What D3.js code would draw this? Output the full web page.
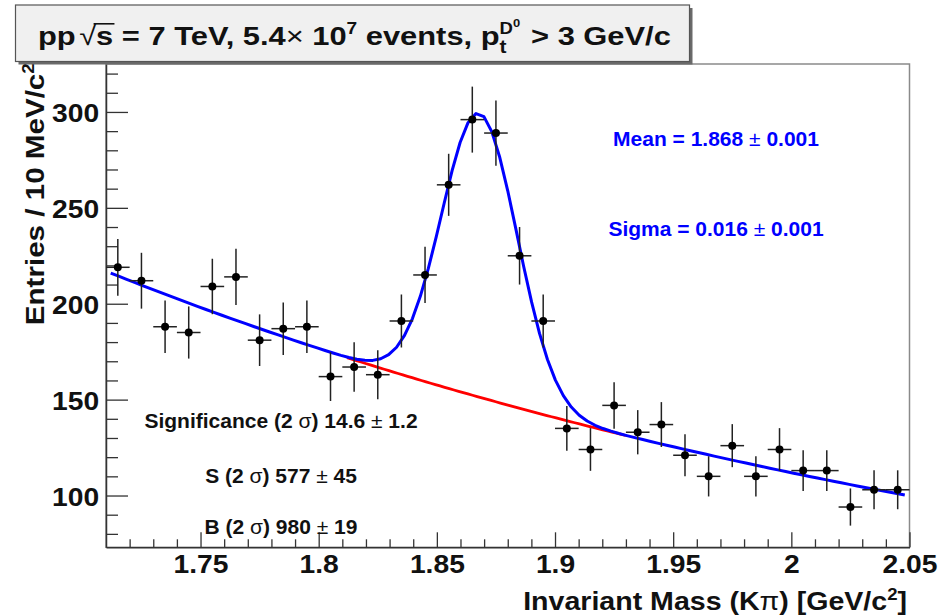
<!DOCTYPE html>
<html>
<head>
<meta charset="utf-8">
<script src="https://cdn.jsdelivr.net/npm/d3@7"></script>
<style>
  html, body { margin: 0; padding: 0; background: #fff; }
  svg { display: block; }
  text { font-family: "Liberation Sans", Arial, Helvetica, sans-serif; }
</style>
</head>
<body>
<svg id="chart" width="943" height="616"></svg>
<script>
// ---- data: D0 -> K pi invariant mass, 10 MeV/c^2 bins ----
const massBins = [1.715, 1.725, 1.735, 1.745, 1.755, 1.765, 1.775, 1.785, 1.795, 1.805,
                  1.815, 1.825, 1.835, 1.845, 1.855, 1.865, 1.875, 1.885, 1.895, 1.905,
                  1.915, 1.925, 1.935, 1.945, 1.955, 1.965, 1.975, 1.985, 1.995, 2.005,
                  2.015, 2.025, 2.035, 2.045];
const entries = [219, 212, 188, 185, 209, 214, 181, 187, 188, 162,
                 167, 163, 191, 215, 262, 296, 289, 225, 191, 135,
                 124, 147, 133, 137, 121, 110, 126, 110, 124, 113,
                 113, 94, 103, 103];
const binWidth = 0.01;

const xTickValues = [1.75, 1.8, 1.85, 1.9, 1.95, 2, 2.05];
const xTickLabels = ["1.75", "1.8", "1.85", "1.9", "1.95", "2", "2.05"];
const yTickValues = [100, 150, 200, 250, 300];
const yTickLabels = ["100", "150", "200", "250", "300"];

// ---- fit: gaussian signal on exponential background ----
const fitMean = 1.868, fitMeanErr = 0.001;
const fitSigma = 0.016, fitSigmaErr = 0.001;
const gaussAmp = 148;
const bkgNorm = 217, bkgSlope = -2.284, bkgRef = 1.71;
const fitRange = [1.712, 2.048];
const bkgDrawRange = [1.812, 1.93];

// ---- yields in the +-2 sigma window ----
const statNames = ["Significance", "S", "B"];
const statValues = ["14.6", "577", "980"];
const statErrors = ["1.2", "45", "19"];

// ---- layout ----
const svg = d3.select("#chart");
const frame = { left: 106, right: 909.5, top: 64, bottom: 547.3 };

const x = d3.scaleLinear().domain([1.71, 2.05]).range([frame.left, frame.right]);
const y = d3.scaleLinear().domain([73, 325]).range([frame.bottom, frame.top]);

const bkg = m => bkgNorm * Math.exp(bkgSlope * (m - bkgRef));
const total = m => bkg(m) + gaussAmp * Math.exp(-0.5 * Math.pow((m - fitMean) / fitSigma, 2));

// frame (top/right)
svg.append("rect")
  .attr("x", frame.left).attr("y", frame.top)
  .attr("width", frame.right - frame.left).attr("height", frame.bottom - frame.top)
  .attr("fill", "#fff").attr("stroke", "#8a8a8a").attr("stroke-width", 1.5);

// x axis: major + minor ticks pointing inward
const xAxisG = svg.append("g").attr("transform", `translate(0,${frame.bottom})`);
xAxisG.append("g")
  .call(d3.axisBottom(x).tickValues(d3.range(1.72, 2.0501, 0.01).filter(v => Math.abs(v * 20 - Math.round(v * 20)) > 1e-6))
    .tickSize(-8).tickFormat(""))
  .call(g => g.select(".domain").remove());
xAxisG.append("g")
  .call(d3.axisBottom(x).tickValues(xTickValues).tickSizeInner(-15).tickSizeOuter(0)
    .tickPadding(8).tickFormat((d, i) => xTickLabels[i]))
  .call(g => g.select(".domain").attr("stroke", "#333").attr("stroke-width", 1.5))
  .call(g => g.selectAll("text")
    .attr("transform", "scale(1.13,1)")
    .style("font-size", "25px").style("font-weight", "bold").attr("fill", "#111")
    .attr("font-family", null));
xAxisG.selectAll("line").attr("stroke", "#333").attr("stroke-width", 1.3);

// y axis
const yAxisG = svg.append("g").attr("transform", `translate(${frame.left},0)`);
yAxisG.append("g")
  .call(d3.axisLeft(y).tickValues(d3.range(80, 325, 10).filter(v => v % 50 !== 0))
    .tickSize(-12).tickFormat(""))
  .call(g => g.select(".domain").remove());
yAxisG.append("g")
  .call(d3.axisLeft(y).tickValues(yTickValues).tickSizeInner(-22).tickSizeOuter(0)
    .tickPadding(6).tickFormat((d, i) => yTickLabels[i]))
  .call(g => g.select(".domain").attr("stroke", "#333").attr("stroke-width", 1.5))
  .call(g => g.selectAll("text")
    .attr("transform", "scale(1.13,1)").attr("dy", "0.4em")
    .style("font-size", "25px").style("font-weight", "bold").attr("fill", "#111")
    .attr("font-family", null));
yAxisG.selectAll("line").attr("stroke", "#333").attr("stroke-width", 1.3);

// text with inline symbol / superscript pieces
function richText(parent, tx, ty, opts, parts) {
  const g = parent.append("g").attr("transform", `translate(${tx},${ty}) ${opts.rotate ? "rotate(-90)" : ""} scale(${opts.sx || 1},1)`);
  const t = g.append("text")
    .attr("text-anchor", opts.anchor || "start")
    .attr("fill", opts.fill || "#111")
    .style("white-space", "pre")
    .style("font-size", opts.size + "px")
    .style("font-weight", "bold");
  parts.forEach(p => {
    const s = t.append("tspan").text(p.t);
    if (p.normal) s.style("font-weight", "normal");
    if (p.sup) s.style("font-size", (opts.size * 0.65) + "px").attr("dy", -opts.size * 0.4);
    if (p.back) s.attr("dy", opts.size * 0.4);
  });
  return t;
}

richText(svg, 907, 610, { size: 25.5, sx: 1.12, anchor: "end" }, [
  { t: "Invariant Mass (K" }, { t: "π", normal: true }, { t: ") [GeV/c" },
  { t: "2", sup: true }, { t: "]", back: true }
]);
richText(svg, 44, 63, { size: 25.5, sx: 1.16, anchor: "end", rotate: true }, [
  { t: "Entries / 10 MeV/c" }, { t: "2", sup: true }
]);

// background (red) then total fit (blue)
const line = d3.line().x(d => x(d[0])).y(d => y(d[1]));
const samples = (lo, hi, n, f) => d3.range(n + 1).map(i => { const m = lo + (hi - lo) * i / n; return [m, f(m)]; });

svg.append("path")
  .attr("d", line(samples(bkgDrawRange[0], bkgDrawRange[1], 60, bkg)))
  .attr("fill", "none").attr("stroke", "#ff0000").attr("stroke-width", 2.8);
svg.append("path")
  .attr("d", line(samples(fitRange[0], fitRange[1], 100, total)))
  .attr("fill", "none").attr("stroke", "#0000ff").attr("stroke-width", 3).attr("stroke-linejoin", "round");

// data points with sqrt(N) errors
const pts = svg.append("g");
massBins.forEach((m, i) => {
  const n = entries[i], e = Math.sqrt(n);
  pts.append("line").attr("x1", x(m)).attr("x2", x(m)).attr("y1", y(n - e)).attr("y2", y(n + e))
    .attr("stroke", "#222").attr("stroke-width", 1.5);
  pts.append("line").attr("x1", x(m - binWidth / 2)).attr("x2", x(m + binWidth / 2)).attr("y1", y(n)).attr("y2", y(n))
    .attr("stroke", "#222").attr("stroke-width", 1.5);
  pts.append("circle").attr("cx", x(m)).attr("cy", y(n)).attr("r", 4).attr("fill", "#000");
});

// fit parameter labels
richText(svg, 716, 146, { size: 21, anchor: "middle", fill: "#0000ff" }, [
  { t: "Mean = " + fitMean.toFixed(3) + " " }, { t: "±", normal: true }, { t: " " + fitMeanErr.toFixed(3) }
]);
richText(svg, 716, 236, { size: 21, anchor: "middle", fill: "#0000ff" }, [
  { t: "Sigma = " + fitSigma.toFixed(3) + " " }, { t: "±", normal: true }, { t: " " + fitSigmaErr.toFixed(3) }
]);

// yield labels
const statY = [428, 483, 534];
statNames.forEach((name, i) => {
  richText(svg, 281, statY[i], { size: 21, anchor: "middle", fill: "#111" }, [
    { t: name + " (2 " }, { t: "σ", normal: true }, { t: ") " + statValues[i] + " " },
    { t: "±", normal: true }, { t: " " + statErrors[i] }
  ]);
});

// title pave with shadow
svg.append("rect").attr("x", 18.5).attr("y", 8).attr("width", 674).attr("height", 56.5).attr("fill", "#6a6a6a");
svg.append("rect").attr("x", 15.5).attr("y", 5).attr("width", 674).attr("height", 56.5)
  .attr("fill", "#f0f0f0").attr("stroke", "#555").attr("stroke-width", 1.2);

const F = 26.5;
const titleG = svg.append("g").attr("transform", "translate(38,45) scale(1.165,1)");
let cursor = 0;
function put(str, o = {}) {
  const size = o.size || F;
  const t = titleG.append("text").attr("x", cursor).attr("y", o.dy || 0)
    .attr("fill", "#111").style("white-space", "pre")
    .style("font-size", size + "px").style("font-weight", o.normal ? "normal" : "bold").text(str);
  const w = t.node().getComputedTextLength();
  const x0 = cursor;
  if (!o.noAdvance) cursor += w;
  return { x0, w };
}
put("pp");
cursor += 3;
const rad = put("√", { normal: true });
put("s");
titleG.append("line").attr("x1", rad.x0 + rad.w * 0.85).attr("x2", cursor + 1)
  .attr("y1", -F * 0.8).attr("y2", -F * 0.8).attr("stroke", "#111").attr("stroke-width", 1.6);
put(" = 7 TeV, 5.4");
put("×", { normal: true });
put(" 10");
put("7", { size: F * 0.62, dy: -F * 0.42 });
put(" events, p");
const stackX = cursor;
const sub = put("t", { size: F * 0.68, dy: F * 0.32, noAdvance: true });
put("D", { size: F * 0.6, dy: -F * 0.42 });
put("0", { size: F * 0.42, dy: -F * 0.68 });
cursor = Math.max(cursor, stackX + sub.w) + 2;
put(" > 3 GeV/c");
</script>
</body>
</html>
